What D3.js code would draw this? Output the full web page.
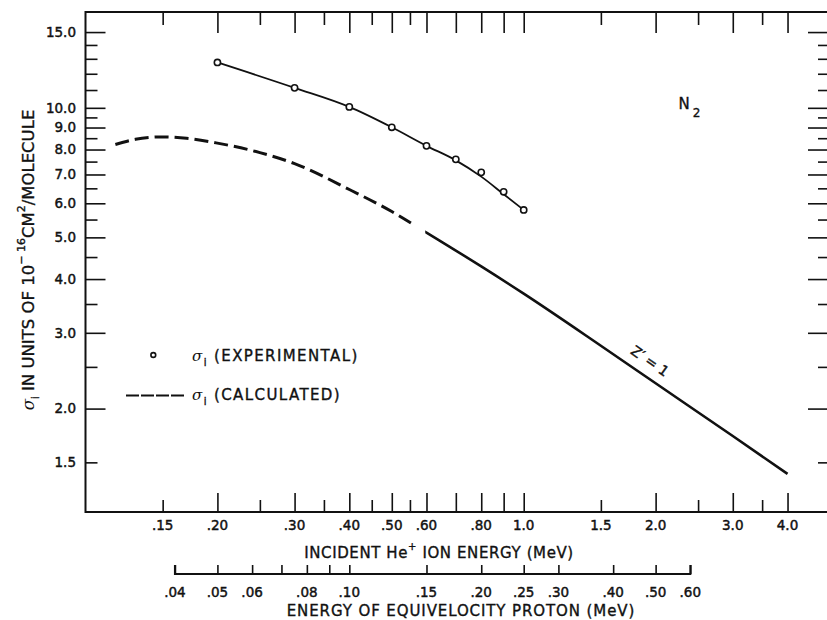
<!DOCTYPE html>
<html>
<head>
<meta charset="utf-8">
<script src="https://cdn.jsdelivr.net/npm/d3@7"></script>
<style>
body { margin: 0; background: #fff; }
svg { display: block; font-family: "DejaVu Sans", sans-serif; }
.lbl { font-size: 13.5px; fill: #111; stroke: #111; stroke-width: 0.45px; }
.ttl { font-size: 15px; fill: #111; stroke: #111; stroke-width: 0.35px; }
.tick line { stroke: #111; stroke-width: 1.6px; }
</style>
</head>
<body>
<script>
// values (He+ on N2)
const expEnergy = [0.2, 0.3, 0.4, 0.5, 0.6, 0.7, 0.8, 0.9, 1.0];
const expSigma = [12.75, 11.13, 10.05, 9.01, 8.16, 7.59, 7.08, 6.38, 5.79];
const fitSigma = [12.75, 11.13, 10.05, 9.01, 8.16, 7.55, 6.92, 6.30, 5.79];

const calcEnergy = [0.117, 0.13, 0.15, 0.17, 0.2, 0.25, 0.3, 0.4, 0.5, 0.6, 0.8, 1.0, 1.5, 2.0, 3.0, 4.0];
const calcSigma = [8.22, 8.45, 8.56, 8.50, 8.28, 7.87, 7.42, 6.46, 5.74, 5.13, 4.28, 3.70, 2.80, 2.29, 1.727, 1.41];
const dashedUntil = 0.565;   // calculated curve is dashed up to here
const solidFrom = 0.596;     // and solid (Z' = 1) from here

// axis ticks
const xTicksLong = [0.2, 0.3, 0.4, 0.5, 0.6, 0.7, 0.8, 0.9, 1, 2, 3, 4];
const xTicksShort = [0.15, 0.25, 0.35, 0.45, 0.55, 1.5, 2.5, 3.5];
const xLabelValues = [0.15, 0.2, 0.3, 0.4, 0.5, 0.6, 0.8, 1, 1.5, 2, 3, 4];
const xLabels = [".15", ".20", ".30", ".40", ".50", ".60", ".80", "1.0", "1.5", "2.0", "3.0", "4.0"];

const yTicksLong = [2, 3, 4, 5, 6, 7, 8, 9, 10, 15];
const yTicksShort = [1.5, 2.5, 3.5, 4.5, 5.5, 6.5, 7.5, 8.5, 9.5, 11, 12, 13, 14];
const yLabelValues = [1.5, 2, 3, 4, 5, 6, 7, 8, 9, 10, 15];

const protonTicks = [0.04, 0.05, 0.06, 0.07, 0.08, 0.09, 0.10, 0.15, 0.20, 0.25, 0.30, 0.40, 0.50, 0.60];
const protonLabelValues = [0.04, 0.05, 0.06, 0.08, 0.10, 0.15, 0.20, 0.25, 0.30, 0.40, 0.50, 0.60];
const protonLabels = [".04", ".05", ".06", ".08", ".10", ".15", ".20", ".25", ".30", ".40", ".50", ".60"];

const xDomain = [0.1, 5];
const yDomain = [1.15, 16.7];
const protonDomain = [0.04, 0.6];

let width = 827, height = 620;
let plot = { left: 85.5, right: 830, top: 12, bottom: 512 };

let svg = d3.select("body")
    .append("svg")
    .attr("width", width)
    .attr("height", height);

let x = d3.scaleLog().domain(xDomain).range([plot.left, plot.right]);
let y = d3.scaleLog().domain(yDomain).range([plot.bottom, plot.top]);
// proton of equal velocity carries ~1/4 of the He+ energy
let xp = d3.scaleLog().domain(protonDomain).range([x(protonDomain[0] * 4), x(protonDomain[1] * 4)]);

// ticks, all pointing inward
function ticks(axis, scale, values, size, transform) {
    svg.append("g")
        .attr("transform", transform)
        .call(axis(scale).tickValues(values).tickSize(size).tickSizeOuter(0).tickFormat(""))
        .call(g => g.select(".domain").remove());
}
ticks(d3.axisBottom, x, xTicksLong, -19, `translate(0,${plot.bottom})`);
ticks(d3.axisBottom, x, xTicksShort, -12, `translate(0,${plot.bottom})`);
ticks(d3.axisTop, x, xTicksLong, -21, `translate(0,${plot.top})`);
ticks(d3.axisTop, x, xTicksShort, -13, `translate(0,${plot.top})`);
ticks(d3.axisLeft, y, yTicksLong, -20, `translate(${plot.left},0)`);
ticks(d3.axisLeft, y, yTicksShort, -12, `translate(${plot.left},0)`);
ticks(d3.axisRight, y, yTicksLong, -22, `translate(${plot.right},0)`);
ticks(d3.axisRight, y, yTicksShort, -12, `translate(${plot.right},0)`);

// frame
svg.append("path")
    .attr("d", `M${plot.left},${plot.top}H${plot.right}V${plot.bottom}H${plot.left}Z`)
    .attr("fill", "none")
    .attr("stroke", "#111")
    .attr("stroke-width", 2);

// tick labels
svg.append("g").selectAll("text")
    .data(xLabelValues)
    .join("text")
    .attr("class", "lbl")
    .attr("x", d => x(d))
    .attr("y", 529.5)
    .attr("text-anchor", "middle")
    .text((d, i) => xLabels[i]);

svg.append("g").selectAll("text")
    .data(yLabelValues)
    .join("text")
    .attr("class", "lbl")
    .attr("x", 76)
    .attr("y", d => y(d))
    .attr("dy", "0.36em")
    .attr("text-anchor", "end")
    .text(d => d3.format(".1f")(d));

// proton energy scale
let pAxisY = 574;
svg.append("g")
    .attr("transform", `translate(0,${pAxisY})`)
    .call(d3.axisTop(xp).tickValues(protonTicks).tickSize(9).tickSizeOuter(0).tickFormat(""))
    .call(g => g.select(".domain").attr("stroke", "#111").attr("stroke-width", 2)
        .attr("d", `M${xp(protonDomain[0])},-9V0H${xp(protonDomain[1])}V-9`));

svg.append("g").selectAll("text")
    .data(protonLabelValues)
    .join("text")
    .attr("class", "lbl")
    .attr("x", d => xp(d))
    .attr("y", 597)
    .attr("text-anchor", "middle")
    .text((d, i) => protonLabels[i]);

// axis titles
let xt = svg.append("text")
    .attr("class", "ttl")
    .attr("x", 439)
    .attr("y", 557.5)
    .attr("text-anchor", "middle")
    .style("letter-spacing", "0.6px");
xt.append("tspan").text("INCIDENT He");
xt.append("tspan").attr("dy", -8).style("font-size", "10px").text("+");
xt.append("tspan").attr("dy", 8).text(" ION ENERGY (MeV)");

svg.append("text")
    .attr("class", "ttl")
    .attr("x", 461)
    .attr("y", 615.5)
    .attr("text-anchor", "middle")
    .style("letter-spacing", "0.9px")
    .text("ENERGY OF EQUIVELOCITY PROTON (MeV)");

let yt = svg.append("text")
    .attr("class", "ttl")
    .attr("transform", "translate(33.5,260) rotate(-90)")
    .attr("text-anchor", "middle")
    .style("font-size", "16.5px");
yt.append("tspan").style("font-family", "DejaVu Serif").style("font-style", "italic").style("stroke-width", 0).text("σ");
yt.append("tspan").attr("dy", 5).style("font-size", "10px").text("i");
yt.append("tspan").attr("dy", -5).text(" IN UNITS OF 10");
yt.append("tspan").attr("dy", -9).style("font-size", "11px").text("− 16");
yt.append("tspan").attr("dy", 9).text("CM");
yt.append("tspan").attr("dy", -9).style("font-size", "11px").text("2");
yt.append("tspan").attr("dy", 9).text("/MOLECULE");

// calculated curve: dashed then solid, same path clipped in two parts
let calcData = calcEnergy.map((e, i) => [e, calcSigma[i]]);
let line = d3.line()
    .x(d => x(d[0]))
    .y(d => y(d[1]))
    .curve(d3.curveMonotoneX);

let defs = svg.append("defs");
defs.append("clipPath").attr("id", "clipDash")
    .append("rect").attr("x", 0).attr("y", 0).attr("width", x(dashedUntil)).attr("height", height);
defs.append("clipPath").attr("id", "clipSolid")
    .append("rect").attr("x", x(solidFrom)).attr("y", 0).attr("width", width).attr("height", height);

svg.append("path")
    .datum(calcData)
    .attr("d", line)
    .attr("clip-path", "url(#clipDash)")
    .attr("fill", "none")
    .attr("stroke", "#111")
    .attr("stroke-width", 3)
    .attr("stroke-dasharray", "14,6");

svg.append("path")
    .datum(calcData)
    .attr("d", line)
    .attr("clip-path", "url(#clipSolid)")
    .attr("fill", "none")
    .attr("stroke", "#111")
    .attr("stroke-width", 2.6);

// experimental curve + points
let fitData = expEnergy.map((e, i) => [e, fitSigma[i]]);
svg.append("path")
    .datum(fitData)
    .attr("d", line)
    .attr("fill", "none")
    .attr("stroke", "#111")
    .attr("stroke-width", 1.8);

svg.append("g").selectAll("circle")
    .data(expEnergy.map((e, i) => [e, expSigma[i]]))
    .join("circle")
    .attr("cx", d => x(d[0]))
    .attr("cy", d => y(d[1]))
    .attr("r", 3.1)
    .attr("fill", "#fff")
    .attr("stroke", "#111")
    .attr("stroke-width", 1.6);

// Z' = 1 label along the line
svg.append("text")
    .attr("class", "lbl")
    .style("font-size", "14px")
    .attr("transform", "translate(650,361) rotate(35)")
    .attr("text-anchor", "middle")
    .attr("dy", "0.35em")
    .text("Z′ = 1");

// N2
let n2 = svg.append("text").attr("class", "ttl").attr("x", 678.5).attr("y", 108.5);
n2.append("tspan").text("N");
n2.append("tspan").attr("dx", 3).attr("dy", 8).style("font-size", "12px").text("2");

// legend
svg.append("circle")
    .attr("cx", 153.3).attr("cy", 355).attr("r", 2.4)
    .attr("fill", "#fff").attr("stroke", "#111").attr("stroke-width", 1.6);
svg.append("line")
    .attr("x1", 126).attr("x2", 184).attr("y1", 395.5).attr("y2", 395.5)
    .attr("stroke", "#111").attr("stroke-width", 2)
    .attr("stroke-dasharray", "13,2");

function legendText(yy, label) {
    let t = svg.append("text").attr("class", "ttl").attr("x", 192).attr("y", yy)
        .style("letter-spacing", "1.4px");
    t.append("tspan").style("font-family", "DejaVu Serif").style("font-style", "italic")
        .style("font-size", "15px").style("stroke-width", 0).text("σ");
    t.append("tspan").attr("dy", 5).style("font-size", "10px").text("i");
    t.append("tspan").attr("dy", -5).text(" " + label);
}
legendText(361, "(EXPERIMENTAL)");
legendText(400, "(CALCULATED)");
</script>
</body>
</html>
